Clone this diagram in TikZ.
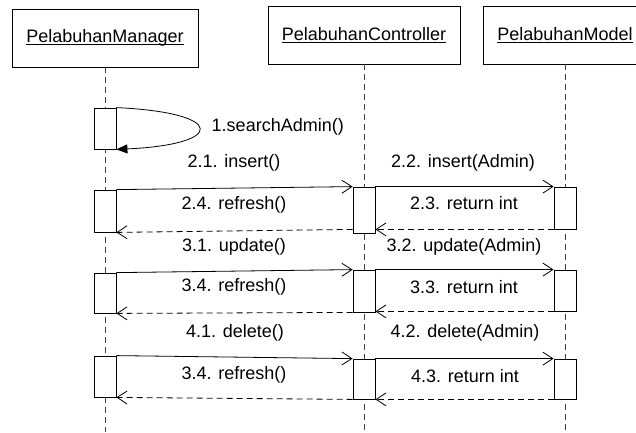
\documentclass[tikz,border=0pt]{standalone}
\usepackage{fontspec}
\setmainfont{Liberation Sans}
\usetikzlibrary{arrows.meta}
\newcommand\ulname[1]{\setbox0\hbox{#1}\rlap{\rule[-2.5pt]{\wd0}{0.8pt}}\box0}

\begin{document}
\begin{tikzpicture}[x=1pt,y=-1pt,line width=0.8pt,
    font=\fontsize{18}{21}\selectfont,
    head/.style={draw,minimum height=58pt,inner sep=0pt},
    act/.style={draw,fill=white,minimum width=22pt,inner sep=0pt},
    life/.style={black!75,dash pattern=on 6pt off 4pt},
    call/.style={-{Straight Barb[length=10pt,width=13pt]}},
    ret/.style={call,dash pattern=on 6pt off 4pt}]
    \useasboundingbox (0,0) rectangle (636,432);
    \clip (0,0) rectangle (636,432);
    % objects
    \node[head,minimum width=186pt] (mgr) at (105,38) {\ulname{PelabuhanManager}};
    \node[head,minimum width=192pt] (ctl) at (364,35) {\ulname{PelabuhanController}};
    \node[head,minimum width=164pt] (mdl) at (565,35) {\ulname{PelabuhanModel}};
    \draw[life] (mgr.south) -- (mgr.south |- 0,432);
    \draw[life] (ctl.south) -- (ctl.south |- 0,432);
    \draw[life] (mdl.south) -- (mdl.south |- 0,432);
    % activations
    \node[act,minimum height=41pt] (a0) at (105,128.5) {};
    \node[act,minimum height=42pt] (a1) at (105,211) {};
    \node[act,minimum height=40pt] (a2) at (105,293) {};
    \node[act,minimum height=41pt] (a3) at (105,376.5) {};
    \node[act,minimum height=46pt] (c1) at (364,210) {};
    \node[act,minimum height=42pt] (c2) at (364,291) {};
    \node[act,minimum height=40pt] (c3) at (364,379) {};
    \node[act,minimum height=42pt] (m1) at (565,208) {};
    \node[act,minimum height=41pt] (m2) at (565,290.5) {};
    \node[act,minimum height=40pt] (m3) at (565,379) {};
    % self call
    \draw[-{Triangle[length=11pt,width=9pt]}] (a0.north east) .. controls +(110,5) and +(110,-5) .. (a0.south east);
    \node[anchor=west] (l1) at (208,127) {1.searchAdmin()};
    % insert
    \draw[call] (a1.north east) -- (c1.north west);
    \draw[call] (c1.north east) -- (m1.north west);
    \draw[ret] (m1.south west) -- (m1.south west -| c1.east);
    \draw[ret] (m1.south west -| c1.west) -- (a1.south east);
    \node (l21) at (234,163) {2.1. insert()};
    \node (l22) at (463,163) {2.2. insert(Admin)};
    \node (l23) at (464,203) {2.3. return int};
    \node (l24) at (234,205) {2.4. refresh()};
    % update
    \draw[call] (a2.north east) -- (c2.north west);
    \draw[call] (c2.north east) -- (m2.north west);
    \draw[ret] (m2.south west) -- (m2.south west -| c2.east);
    \draw[ret] (c2.south west) -- (a2.south east);
    \node (l31) at (234,247) {3.1. update()};
    \node (l32) at (464,247) {3.2. update(Admin)};
    \node (l33) at (464,287) {3.3. return int};
    \node (l34) at (234,287) {3.4. refresh()};
    % delete
    \draw[call] (a3.north east) -- (c3.north west);
    \draw[call] (c3.north east) -- (m3.north west);
    \draw[ret] (m3.south west) -- (c3.south east);
    \draw[ret] (c3.south west) -- (a3.south east);
    \node (l41) at (235,333) {4.1. delete()};
    \node (l42) at (465,333) {4.2. delete(Admin)};
    \node (l43) at (465,376) {4.3. return int};
    \node (l44) at (234,375) {3.4. refresh()};
\end{tikzpicture}
\end{document}
